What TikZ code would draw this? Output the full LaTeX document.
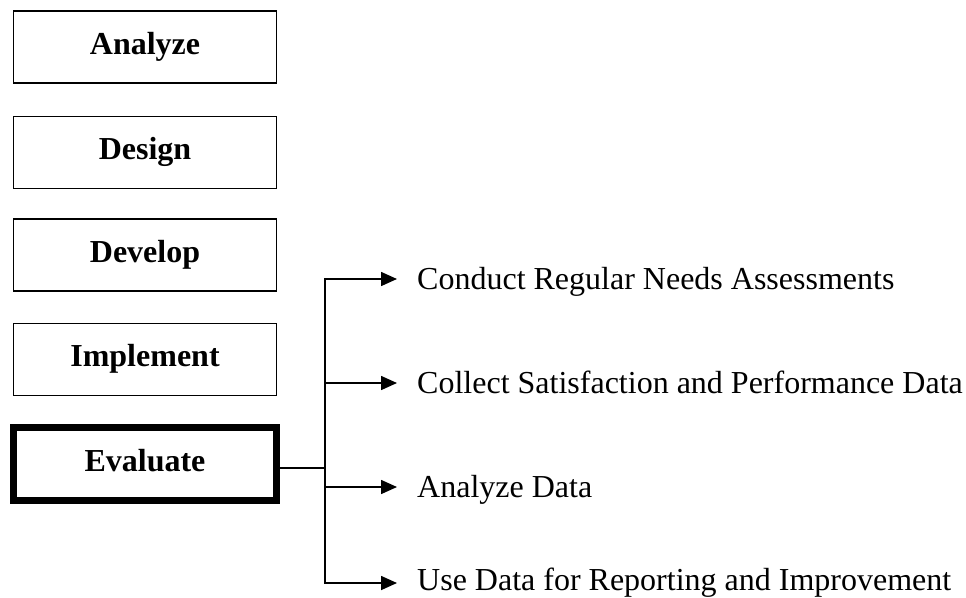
\documentclass[tikz,border=0pt]{standalone}
\usepackage{fontspec}
\setmainfont{Liberation Serif}
\usetikzlibrary{arrows.meta}
\begin{document}
\begin{tikzpicture}[x=1pt,y=-1pt,
  phase/.style={draw,line width=1.6pt,minimum width=263pt,minimum height=72pt,
    font=\fontsize{32}{38}\selectfont\bfseries,text height=22pt,text depth=8pt},
  current/.style={phase,line width=7pt,minimum height=73pt},
  task/.style={anchor=west,inner xsep=20pt,inner ysep=0pt,
    font=\fontsize{32}{38}\selectfont,text height=21pt,text depth=0pt},
  link/.style={line width=1.6pt,-{Triangle[length=16pt,width=14pt]}}]
\useasboundingbox (0,0) rectangle (966,597);
% the five phases
\foreach \name/\lbl/\y in {an/Analyze/47,de/Design/152.5,dv/Develop/255,im/Implement/359.5}
  \node[phase] (\name) at (145,\y) {\lbl};
\node[current] (ev) at (145,464) {Evaluate};
% evaluation tasks
\node[task] (t1) at (397,279) {Conduct Regular Needs Assessments};
\node[task] (t2) at (397,383) {Collect Satisfaction and Performance Data};
\node[task] (t3) at (397,487) {Analyze Data};
\node[task,text height=14pt] (t4) at (397,583) {Use Data for Reporting and Improvement};
\coordinate (fork) at (325,468);
\draw[line width=1.6pt] (ev.east |- fork) -- (fork);
\foreach \t in {t1,t2,t3,t4}
  \draw[link] (fork) |- (\t.west);
\end{tikzpicture}
\end{document}
